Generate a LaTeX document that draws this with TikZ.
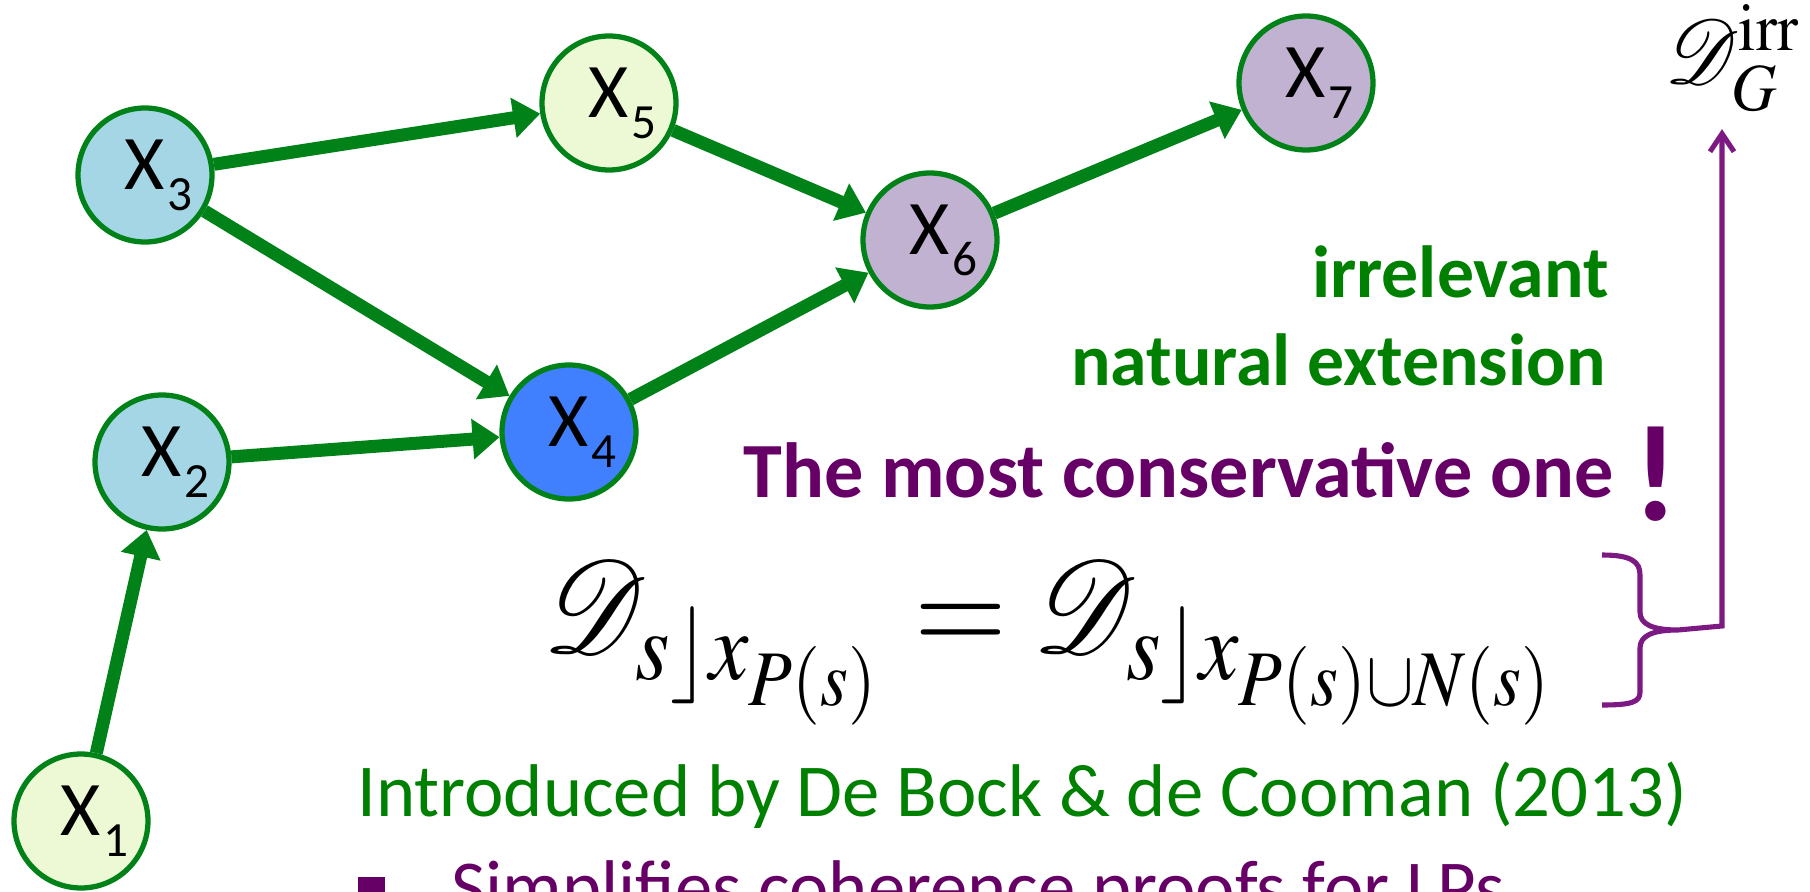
\documentclass[tikz,border=0pt]{standalone}
\usepackage{mathptmx}
\usepackage{mathrsfs}
\usepackage{fontspec}
\setmainfont{Carlito}
\usetikzlibrary{arrows.meta,calc}
\definecolor{leafgreen}{RGB}{0,130,25}
\definecolor{textgreen}{RGB}{0,128,0}
\definecolor{plum}{RGB}{102,0,102}
\definecolor{braceplum}{RGB}{125,25,130}
\definecolor{sprout}{RGB}{237,249,213}
\definecolor{sky}{RGB}{164,214,229}
\definecolor{azure}{RGB}{64,128,255}
\definecolor{lilac}{RGB}{193,178,209}
\newcommand{\xsub}[1]{X\rlap{\kern0.05cm\raisebox{-0.42cm}{\fontsize{28}{32}\selectfont #1}}}
\tikzset{
  var/.style={circle,draw=leafgreen,line width=3pt,fill=#1,minimum size=2.68cm,
    inner sep=0pt,font=\fontsize{44}{50}\selectfont},
  var/.default=sprout,
  flow/.style={-{Triangle[length=5.4mm,width=7.8mm]},line width=7.4pt,draw=leafgreen},
  hint/.style={font=\fontsize{42}{50}\selectfont\bfseries,text=#1,inner sep=0pt},
  hint/.default=textgreen,
  line text/.style={font=\fontsize{42.5}{50}\selectfont,text=#1,inner sep=0pt,anchor=base west},
  line text/.default=textgreen,
  link/.style={draw=braceplum,line width=2.9pt},
}
\begin{document}
\begin{tikzpicture}[x=0.02cm,y=-0.02cm]
  \useasboundingbox (0,0) rectangle (1810,892);
  \clip (0,0) rectangle (1810,892);
  % network
  \foreach \i/\px/\py/\c in {1/81/821/sprout,2/162/462/sky,3/145/175/sky,4/569/432/azure,
      5/609/103/sprout,6/930/240/lilac,7/1306/83/lilac}
    \node[var=\c] (x\i) at (\px,\py) {\xsub{\i}};
  \foreach \a/\b in {1/2,3/5,3/4,2/4,5/6,4/6,6/7}
    \draw[flow] (x\a) -- (x\b);
  % right-hand text
  \node[hint,anchor=base east] (irr) at (1609,297) {irrelevant};
  \node[hint,anchor=base east] (natext) at (1606,385) {natural extension};
  \node[hint=plum,font=\fontsize{44.5}{50}\selectfont\bfseries,anchor=base east] (conserv) at (1614,497)
    {The most conservative one};
  \node[hint=plum,font=\fontsize{78}{80}\selectfont\bfseries,anchor=base] (bang) at (1656,520) {!};
  % formula
  \node[inner sep=0pt,anchor=west] (cond) at (543,643)
    {\scalebox{1}[1.1]{\resizebox{20.36cm}{!}{$\mathscr{D}_{s\rfloor x_{P(s)}} = \mathscr{D}_{s\rfloor x_{P(s)\cup N(s)}}$}}};
  \node[inner sep=0pt,anchor=north east] (dgirr) at (1803,4)
    {\scalebox{1}[1.07]{\resizebox{2.75cm}{!}{$\mathscr{D}_G^{\mathrm{irr}}$}}};
  % brace and link
  \draw[link] (1602,555) .. controls (1632,555) and (1640,562) .. (1640,575) -- (1640,612)
    .. controls (1640,624) and (1652,630) .. (1678,630) coordinate (bracetip)
    .. controls (1652,630) and (1640,636) .. (1640,648) -- (1640,692)
    .. controls (1640,702) and (1632,705) .. (1602,705);
  \coordinate (bend) at (1722,626);
  \draw[link,-{Straight Barb[length=3.6mm,width=4.8mm]},shorten >=0.35cm]
    (bracetip) -- (bend) -- (bend |- dgirr.south);
  % bottom lines
  \node[line text] (intro) at (357,816) {Introduced by De Bock \& de Cooman (2013)};
  \node[fill=plum,minimum size=0.54cm,inner sep=0pt,anchor=north west] (bullet) at (358,877) {};
  \node[line text=plum] (simpl) at (451,912) {Simplifies coherence proofs for LPs};
\end{tikzpicture}
\end{document}
